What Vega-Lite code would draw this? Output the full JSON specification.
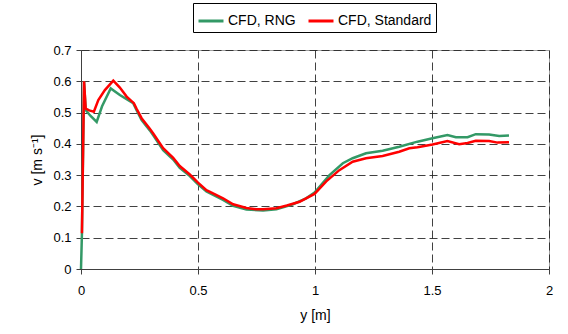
{
  "$schema": "https://vega.github.io/schema/vega-lite/v6.json",
  "width": 468,
  "height": 219,
  "autosize": {"type": "none"},
  "padding": {"left": 81, "top": 50, "right": 19, "bottom": 65},
  "background": "white",
  "config": {
    "font": "Liberation Sans",
    "view": {"stroke": "#a0a0a0", "strokeWidth": 1},
    "axis": {
      "labelColor": "black",
      "titleColor": "black",
      "titleFontWeight": "normal",
      "labelFontSize": 13,
      "titleFontSize": 14,
      "domainColor": "#404040",
      "tickColor": "#404040",
      "gridColor": "#202020",
      "gridDash": [8, 4],
      "gridOpacity": 0.85,
      "tickSize": 5
    }
  },
  "datasets": {
    "rng": [
      {"y": 0.000, "v": 0.000},
      {"y": 0.004, "v": 0.114},
      {"y": 0.013, "v": 0.600},
      {"y": 0.020, "v": 0.508},
      {"y": 0.040, "v": 0.490},
      {"y": 0.067, "v": 0.470},
      {"y": 0.090, "v": 0.520},
      {"y": 0.127, "v": 0.577},
      {"y": 0.166, "v": 0.556},
      {"y": 0.195, "v": 0.543},
      {"y": 0.223, "v": 0.530},
      {"y": 0.237, "v": 0.508},
      {"y": 0.259, "v": 0.476},
      {"y": 0.294, "v": 0.443},
      {"y": 0.308, "v": 0.428},
      {"y": 0.351, "v": 0.380},
      {"y": 0.394, "v": 0.350},
      {"y": 0.422, "v": 0.323},
      {"y": 0.465, "v": 0.297},
      {"y": 0.500, "v": 0.271},
      {"y": 0.536, "v": 0.248},
      {"y": 0.607, "v": 0.221},
      {"y": 0.650, "v": 0.202},
      {"y": 0.707, "v": 0.190},
      {"y": 0.778, "v": 0.187},
      {"y": 0.835, "v": 0.191},
      {"y": 0.906, "v": 0.207},
      {"y": 0.962, "v": 0.226},
      {"y": 0.998, "v": 0.244},
      {"y": 1.062, "v": 0.300},
      {"y": 1.119, "v": 0.338},
      {"y": 1.161, "v": 0.354},
      {"y": 1.218, "v": 0.370},
      {"y": 1.289, "v": 0.378},
      {"y": 1.360, "v": 0.391},
      {"y": 1.438, "v": 0.407},
      {"y": 1.502, "v": 0.418},
      {"y": 1.566, "v": 0.428},
      {"y": 1.602, "v": 0.421},
      {"y": 1.652, "v": 0.421},
      {"y": 1.687, "v": 0.431},
      {"y": 1.744, "v": 0.430},
      {"y": 1.787, "v": 0.425},
      {"y": 1.829, "v": 0.427}
    ],
    "std": [
      {"y": 0.004, "v": 0.114},
      {"y": 0.013, "v": 0.600},
      {"y": 0.020, "v": 0.513},
      {"y": 0.035, "v": 0.507},
      {"y": 0.055, "v": 0.503},
      {"y": 0.074, "v": 0.540},
      {"y": 0.102, "v": 0.572},
      {"y": 0.138, "v": 0.602},
      {"y": 0.166, "v": 0.580},
      {"y": 0.195, "v": 0.551},
      {"y": 0.226, "v": 0.530},
      {"y": 0.237, "v": 0.513},
      {"y": 0.259, "v": 0.482},
      {"y": 0.294, "v": 0.448},
      {"y": 0.308, "v": 0.434},
      {"y": 0.351, "v": 0.386},
      {"y": 0.394, "v": 0.355},
      {"y": 0.422, "v": 0.329},
      {"y": 0.465, "v": 0.302},
      {"y": 0.500, "v": 0.276},
      {"y": 0.536, "v": 0.252},
      {"y": 0.575, "v": 0.238},
      {"y": 0.607, "v": 0.226},
      {"y": 0.650, "v": 0.207},
      {"y": 0.707, "v": 0.195},
      {"y": 0.750, "v": 0.191},
      {"y": 0.778, "v": 0.191},
      {"y": 0.835, "v": 0.194},
      {"y": 0.880, "v": 0.203},
      {"y": 0.934, "v": 0.215},
      {"y": 0.962, "v": 0.226},
      {"y": 0.998, "v": 0.240},
      {"y": 1.048, "v": 0.280},
      {"y": 1.104, "v": 0.316},
      {"y": 1.161, "v": 0.343},
      {"y": 1.218, "v": 0.354},
      {"y": 1.289, "v": 0.361},
      {"y": 1.360, "v": 0.375},
      {"y": 1.403, "v": 0.386},
      {"y": 1.438, "v": 0.389},
      {"y": 1.502, "v": 0.398},
      {"y": 1.566, "v": 0.409},
      {"y": 1.616, "v": 0.399},
      {"y": 1.652, "v": 0.403},
      {"y": 1.687, "v": 0.410},
      {"y": 1.744, "v": 0.409},
      {"y": 1.780, "v": 0.404},
      {"y": 1.829, "v": 0.405}
    ]
  },
  "encoding": {
    "x": {
      "field": "y",
      "type": "quantitative",
      "scale": {"domain": [0, 2], "nice": false, "zero": false},
      "axis": {
        "title": "y [m]",
        "values": [0, 0.5, 1, 1.5, 2],
        "format": "~g",
        "labelPadding": 10,
        "titlePadding": 11,
        "labelFlush": false
      }
    },
    "y": {
      "field": "v",
      "type": "quantitative",
      "scale": {"domain": [0, 0.7], "nice": false},
      "axis": {
        "title": "v [m s⁻¹]",
        "values": [0, 0.1, 0.2, 0.3, 0.4, 0.5, 0.6, 0.7],
        "format": "~g",
        "labelPadding": 5,
        "titlePadding": 8,
        "labelFlush": false
      }
    },
    "color": {
      "field": "series",
      "type": "nominal",
      "scale": {"domain": ["CFD, RNG", "CFD, Standard"], "range": ["#339966", "#ff0000"]},
      "legend": {
        "title": null,
        "orient": "none",
        "legendX": 112,
        "legendY": -47,
        "direction": "horizontal",
        "symbolType": "stroke",
        "symbolSize": 625,
        "symbolStrokeWidth": 3,
        "labelFontSize": 14,
        "labelColor": "black",
        "labelOffset": 3,
        "columnPadding": 6,
        "padding": 4,
        "strokeColor": "black",
        "fillColor": "white"
      }
    }
  },
  "layer": [
    {
      "data": {"name": "rng"},
      "transform": [{"calculate": "'CFD, RNG'", "as": "series"}],
      "mark": {"type": "line", "strokeWidth": 2.5, "interpolate": "linear"}
    },
    {
      "data": {"name": "std"},
      "transform": [{"calculate": "'CFD, Standard'", "as": "series"}],
      "mark": {"type": "line", "strokeWidth": 2.5, "interpolate": "linear"}
    }
  ]
}
